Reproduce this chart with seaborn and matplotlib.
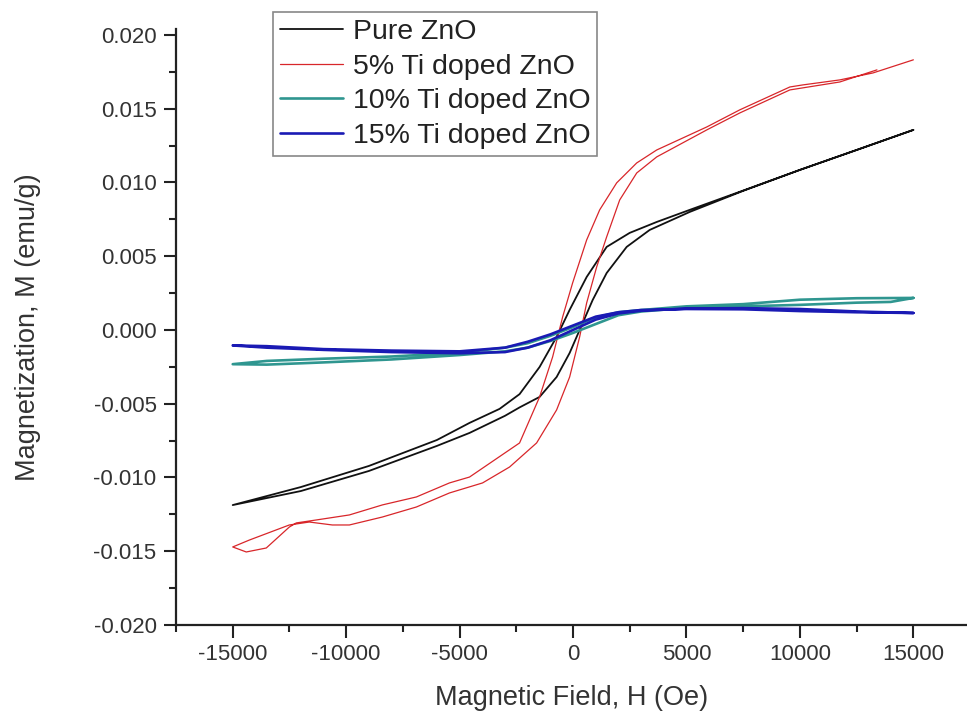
import matplotlib
matplotlib.use('Agg')
import pandas as pd
import matplotlib.pyplot as plt
import seaborn as sns
from matplotlib.ticker import MultipleLocator, FormatStrFormatter

# петли гистерезиса: ветка 15000 -> -15000, затем обратно к +H
pure_h = [15000, 12500, 10000, 7500, 5144, 3688, 2497, 1482, 600, -150, -724, -1474, -2356,
          -3238, -4562, -6000, -9000, -12000, -15000,
          -12000, -9000, -6000, -4562, -3000, -2356, -1474, -724, -150, 291, 865, 1482, 2364,
          3379, 5144, 7500, 10000, 12500, 15000]
pure_m = [0.01356, 0.0122, 0.01085, 0.00945, 0.00814, 0.00732, 0.00658, 0.00563, 0.00359,
          0.00136, -0.00047, -0.00251, -0.00435, -0.00535, -0.0063, -0.00746, -0.00922,
          -0.01065, -0.01187,
          -0.01092, -0.00956, -0.00786, -0.00698, -0.00582, -0.00525, -0.00454, -0.00319,
          -0.00156, 0.0, 0.00203, 0.00386, 0.00563, 0.00678, 0.008, 0.00943, 0.01085,
          0.0122, 0.01356]

ti5_h = [15000, 13217, 11761, 10129, 9556, 7350, 5894, 3688, 2806, 1923, 1174, 600, -18,
         -459, -900, -1474, -2357, -4562, -5448, -6903, -8403, -9859, -11315, -12197,
         -12506, -13521, -14403, -15000,
         -14264, -12506, -11624, -10609, -9859, -8403, -6903, -5448, -3988, -2797, -1606,
         -724, -150, 291, 600, 1041, 1482, 2056, 2806, 3688, 5894, 7350, 9556, 10129,
         11761, 13394]
ti5_m = [0.01831, 0.01742, 0.01695, 0.01661, 0.01647, 0.01492, 0.01376, 0.0122, 0.01132,
         0.00997, 0.00814, 0.0061, 0.00319, 0.00088, -0.00183, -0.00454, -0.00766, -0.00997,
         -0.01037, -0.01132, -0.01186, -0.01254, -0.01288, -0.01308, -0.01336, -0.01478,
         -0.01505, -0.01471,
         -0.01424, -0.01322, -0.01302, -0.01322, -0.01322, -0.01268, -0.012, -0.01105,
         -0.01037, -0.00929, -0.00766, -0.00542, -0.00319, -0.00047, 0.00183, 0.00427,
         0.00631, 0.00881, 0.01064, 0.01173, 0.01356, 0.01471, 0.01627, 0.01641, 0.01681,
         0.01763]

ti10_h = [15000, 12500, 10000, 7500, 5000, 3000, 2000, 1000, 0, -1000, -2000, -3000, -5000,
          -8000, -11000, -13500, -15000,
          -13500, -11000, -8000, -5000, -3000, -2000, -1000, 0, 1000, 2000, 3000, 5000,
          7500, 10000, 12500, 14000, 15000]
ti10_m = [0.00217, 0.00215, 0.00205, 0.00175, 0.0016, 0.00135, 0.0012, 0.00085, 0.0002,
          -0.0004, -0.0009, -0.0012, -0.00155, -0.0018, -0.00195, -0.0021, -0.00232,
          -0.00235, -0.0022, -0.002, -0.0017, -0.00145, -0.0012, -0.00075, -0.0002, 0.0004,
          0.001, 0.00125, 0.0015, 0.0016, 0.0017, 0.00185, 0.0019, 0.00217]

ti15_h = [15000, 12500, 10000, 7500, 5000, 3000, 2000, 1000, 0, -1000, -2000, -3000, -5000,
          -8000, -11000, -13500, -15000,
          -13500, -11000, -8000, -5000, -3000, -2000, -1000, 0, 1000, 2000, 3000, 5000,
          7500, 10000, 12500, 15000]
ti15_m = [0.00115, 0.0012, 0.00128, 0.0014, 0.00142, 0.00135, 0.0012, 0.0009, 0.0003,
          -0.0003, -0.0008, -0.0012, -0.00145, -0.0014, -0.0013, -0.0011, -0.00105,
          -0.0012, -0.00135, -0.0015, -0.00158, -0.0015, -0.0012, -0.0007, 0.0, 0.0007,
          0.00112, 0.0013, 0.00145, 0.00148, 0.00142, 0.00125, 0.00115]

labels = ['Pure ZnO', '5% Ti doped ZnO', '10% Ti doped ZnO', '15% Ti doped ZnO']
colors = ['#111111', '#d8262a', '#2f9690', '#1a1ab4']
widths = [1.3, 0.9, 1.9, 1.9]

#%%
sns.set_style('ticks')
plt.rcParams['font.family'] = ['Liberation Sans', 'DejaVu Sans']
plt.rcParams['axes.unicode_minus'] = False

fig = plt.figure(figsize=(9.67, 7.19), dpi=100)
ax = fig.add_axes([176 / 967, 94 / 719, 791 / 967, 596 / 719])

loops = [(pure_h, pure_m), (ti5_h, ti5_m), (ti10_h, ti10_m), (ti15_h, ti15_m)]
for (h, m), lab, c, w in zip(loops, labels, colors, widths):
    df = pd.DataFrame({'H': h, 'M': m})
    # estimator=None -> точки рисуются как есть, без усреднения веток
    sns.lineplot(data=df, x='H', y='M', sort=False, estimator=None, errorbar=None,
                 color=c, linewidth=w, label=lab, ax=ax)

ax.set(xlim=(-17500, 17364), ylim=(-0.020, 0.0204))
ax.xaxis.set_major_locator(MultipleLocator(5000))
ax.xaxis.set_minor_locator(MultipleLocator(2500))
ax.yaxis.set_major_locator(MultipleLocator(0.005))
ax.yaxis.set_minor_locator(MultipleLocator(0.0025))
ax.xaxis.set_major_formatter(FormatStrFormatter('%d'))
ax.yaxis.set_major_formatter(FormatStrFormatter('%.3f'))
ax.tick_params(which='major', direction='out', length=9, width=1.5, labelsize=16,
               color='#222222', labelcolor='#333333', pad=5)
ax.tick_params(which='minor', direction='out', length=5, width=1.5, color='#222222')

sns.despine(ax=ax)
for s in ['left', 'bottom']:
    ax.spines[s].set_linewidth(1.6)
    ax.spines[s].set_color('#222222')

ax.set_xlabel('Magnetic Field, H (Oe)', fontsize=19.5, color='#333333', labelpad=14)
ax.set_ylabel('Magnetization, M (emu/g)', fontsize=19.5, color='#333333', labelpad=38)

leg = ax.legend(loc='upper left', bbox_to_anchor=(273 / 967, 1 - 12 / 719),
                bbox_transform=fig.transFigure, borderaxespad=0, fontsize=20.5,
                frameon=True, fancybox=False, edgecolor='#888888', framealpha=1,
                handlelength=2.2, handletextpad=0.35, labelspacing=0.3, borderpad=0.25)
leg.get_frame().set_linewidth(1.2)
for t in leg.get_texts():
    t.set_color('#222222')

fig.savefig('out.png', dpi=100)
